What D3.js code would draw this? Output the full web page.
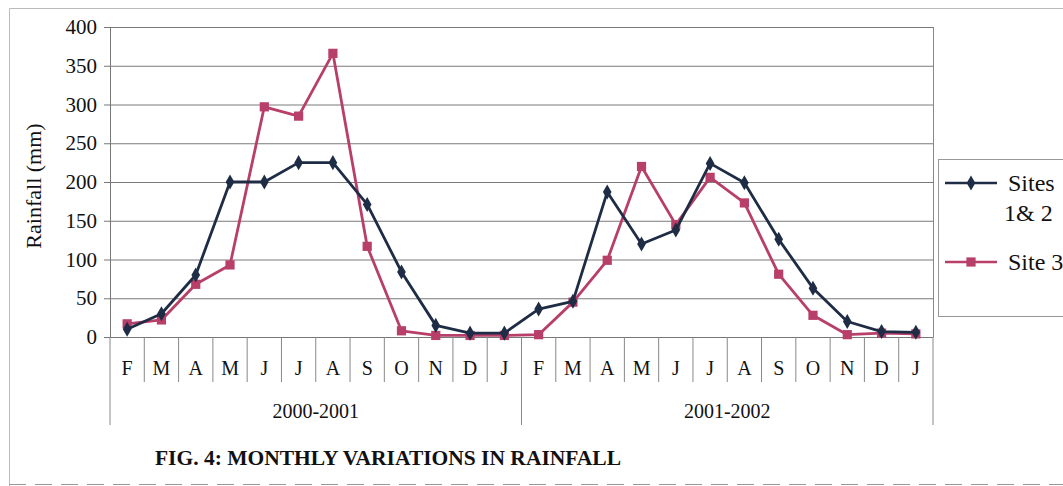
<!DOCTYPE html>
<html>
<head>
<meta charset="utf-8">
<script src="https://d3js.org/d3.v7.min.js"></script>
<style>
    body { margin: 0; background: white; }
    text { font-family: "Liberation Serif", "Times New Roman", serif; fill: #111; }
</style>
</head>
<body>
<svg id="vis"></svg>
<script>
    // data
    var months = ["F", "M", "A", "M", "J", "J", "A", "S", "O", "N", "D", "J"];
    var seasons = ["2000-2001", "2001-2002"];
    var sites12 = [10, 30, 80, 200, 200, 225, 225, 171, 84, 15, 5, 5,
                   36, 46, 187, 120, 138, 224, 199, 126, 63, 20, 7, 6];
    var site3 = [17, 22, 68, 93, 297, 285, 366, 117, 8, 2, 2, 2,
                 3, 45, 99, 220, 145, 206, 173, 81, 28, 3, 5, 4];
    var yTicks = [0, 50, 100, 150, 200, 250, 300, 350, 400];

    var width = 1063, height = 486;
    var svg = d3.select("#vis").attr("width", width).attr("height", height);

    // outer frame and dashed rule at bottom
    svg.append("path")
        .attr("d", "M9.5," + height + "V8.5H" + width)
        .attr("fill", "none").attr("stroke", "#bbb");
    svg.append("line")
        .attr("x1", 9).attr("x2", width).attr("y1", 484.5).attr("y2", 484.5)
        .attr("stroke", "#999").attr("stroke-width", 1.2)
        .attr("stroke-dasharray", "17,9");

    var plotL = 110, plotR = 933, plotT = 27, plotB = 337;

    // one band per month across both seasons
    var slots = d3.range(seasons.length * months.length);
    var x = d3.scaleBand().domain(slots).range([plotL, plotR]);
    var y = d3.scaleLinear().domain([0, 400]).range([plotB, plotT]);

    // gridlines
    svg.append("g")
        .attr("transform", "translate(" + plotL + ",0)")
        .call(d3.axisLeft(y).tickValues(yTicks).tickSize(-(plotR - plotL)).tickFormat(""))
        .call(g => g.select(".domain").remove())
        .call(g => g.selectAll("line").attr("stroke", "#7a7a7a").attr("stroke-width", 1));

    // value axis with labels
    svg.append("g")
        .attr("transform", "translate(" + plotL + ",0)")
        .call(d3.axisLeft(y).tickValues(yTicks).tickSize(6).tickPadding(7))
        .call(g => g.select(".domain").attr("stroke", "#777"))
        .call(g => g.selectAll("line").attr("stroke", "#777"))
        .call(g => g.selectAll("text")
            .style("font-family", "Liberation Serif")
            .style("font-size", "21px").attr("fill", "#111"));

    // right edge of plot
    svg.append("line")
        .attr("x1", plotR + 0.5).attr("x2", plotR + 0.5).attr("y1", plotT).attr("y2", plotB)
        .attr("stroke", "#888");

    svg.append("text")
        .attr("transform", "translate(41," + ((plotT + plotB) / 2 + 4) + ") rotate(-90)")
        .attr("text-anchor", "middle")
        .style("font-size", "22px")
        .text("Rainfall (mm)");

    // category axis: months
    svg.append("g")
        .attr("transform", "translate(0," + plotB + ")")
        .call(d3.axisBottom(x).tickSize(0).tickPadding(24)
            .tickFormat(i => months[i % months.length]))
        .call(g => g.select(".domain").attr("stroke", "#777"))
        .call(g => g.selectAll("text")
            .style("font-family", "Liberation Serif")
            .style("font-size", "20px").attr("fill", "#111"));

    // separators between months, longer between seasons
    var bounds = d3.range(slots.length + 1);
    svg.append("g").selectAll("line")
        .data(bounds)
        .join("line")
        .attr("x1", i => plotL + i * x.step())
        .attr("x2", i => plotL + i * x.step())
        .attr("y1", plotB)
        .attr("y2", i => i % months.length === 0 ? 425 : 382)
        .attr("stroke", "#888");

    // season labels
    svg.append("g").selectAll("text")
        .data(seasons)
        .join("text")
        .attr("x", (d, i) => x(i * months.length) + x.step() * months.length / 2)
        .attr("y", 418)
        .attr("text-anchor", "middle")
        .style("font-size", "20px")
        .text(d => d);

    // series
    var series = [
        { name: "Sites12", values: sites12, color: "#1e2d45", marker: d3.symbolDiamond, size: 65 },
        { name: "Site3", values: site3, color: "#b73f69", marker: d3.symbolSquare, size: 85 }
    ];
    var line = d3.line()
        .x((d, i) => x(i) + x.bandwidth() / 2)
        .y(d => y(d));

    // draw Site 3 first so dark line sits on top
    series.slice().reverse().forEach(s => {
        var g = svg.append("g");
        g.append("path")
            .datum(s.values)
            .attr("d", line)
            .attr("fill", "none")
            .attr("stroke", s.color)
            .attr("stroke-width", 2.8)
            .attr("stroke-linejoin", "round");
        g.selectAll("path.m")
            .data(s.values)
            .join("path")
            .attr("class", "m")
            .attr("transform", (d, i) => "translate(" + (x(i) + x.bandwidth() / 2) + "," + y(d) + ")")
            .attr("d", d3.symbol().type(s.marker).size(s.size))
            .attr("fill", s.color);
    });

    // legend
    var legend = svg.append("g");
    legend.append("rect")
        .attr("x", 938.5).attr("y", 159.5)
        .attr("width", 140).attr("height", 157)
        .attr("fill", "white").attr("stroke", "#999");
    var legendRows = [
        { s: series[0], y: 183, lines: ["Sites", "1& 2"] },
        { s: series[1], y: 262, lines: ["Site 3"] }
    ];
    legendRows.forEach(r => {
        legend.append("line")
            .attr("x1", 945).attr("x2", 997).attr("y1", r.y).attr("y2", r.y)
            .attr("stroke", r.s.color).attr("stroke-width", 2.6);
        legend.append("path")
            .attr("transform", "translate(971," + r.y + ")")
            .attr("d", d3.symbol().type(r.s.marker).size(r.s.size))
            .attr("fill", r.s.color);
        r.lines.forEach((t, k) => {
            legend.append("text")
                .attr("x", k === 0 ? 1008 : 1004)
                .attr("y", r.y + 8 + k * 30)
                .style("font-size", "24px")
                .text(t);
        });
    });

    // caption
    svg.append("text")
        .attr("x", 155)
        .attr("y", 465)
        .attr("textLength", 466)
        .attr("lengthAdjust", "spacingAndGlyphs")
        .style("font-size", "21px")
        .style("font-weight", "bold")
        .text("FIG. 4: MONTHLY VARIATIONS IN RAINFALL");
</script>
</body>
</html>
